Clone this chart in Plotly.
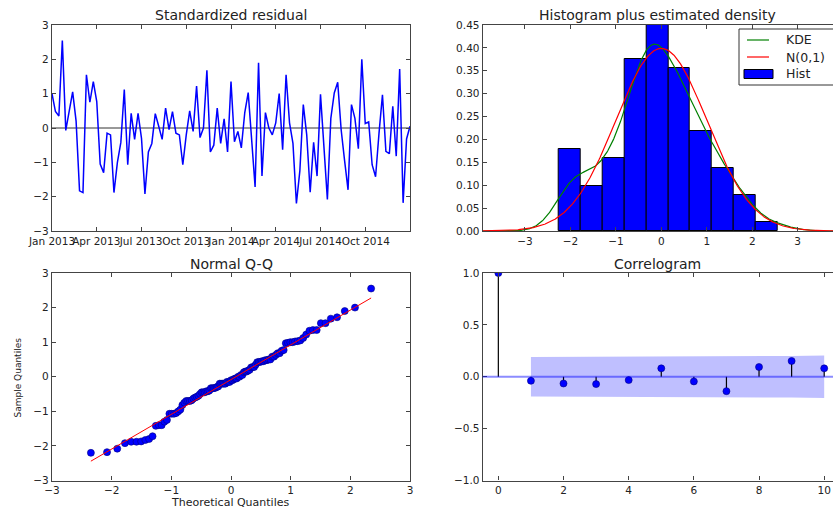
import numpy as np
import pandas as pd
import plotly.graph_objects as go
from statistics import NormalDist

W, H = 833, 508
FONT = "DejaVu Sans"
TXT = "#222222"
SPINE = "#444444"

# ---- data -------------------------------------------------------------
dates = pd.date_range("2013-01-01", periods=105, freq="7D")

std_resid = [
    1.00, 0.48, 0.35, 2.55, -0.07, 0.50, 1.05, 0.20, -1.83, -1.88,
    1.55, 0.75, 1.35, 0.77, -1.05, -1.30, -0.15, -0.20, -1.88, -1.00,
    -0.42, 1.12, -1.07, 0.43, -0.33, 0.43, -0.30, -1.92, -0.70, -0.45,
    0.42, 0.05, -0.33, 0.58, -0.05, 0.48, -0.15, -0.20, -1.07, -0.20,
    0.50, -0.10, 1.22, -0.28, 0.00, 1.68, -0.70, -0.50, 0.58, -0.45,
    0.27, -0.70, 1.35, -0.40, -0.10, -0.58, 0.45, 1.03, -0.33, -1.72,
    1.90, -1.40, 0.45, 0.00, -0.20, 0.15, 1.00, -0.63, 1.55, 0.15,
    -0.45, -2.20, -1.25, 0.68, -0.20, -1.87, -0.42, -1.40, 0.98, -0.55,
    -2.08, 0.28, 1.02, 1.33, -0.05, -0.95, -1.80, 0.68, 0.28, -0.60,
    2.00, 0.13, 0.18, -1.07, -1.42, -0.15, 0.97, -0.68, -0.75, 0.63,
    -0.82, 1.72, -2.18, -0.32, 0.05,
]

hist_start, hist_end, hist_bins = -2.25, 2.557, 10

lags = list(range(11))
acf_vals = [1.0, -0.039, -0.065, -0.071, -0.032, 0.081,
            -0.045, -0.139, 0.094, 0.152, 0.081]

# ---- derived curves ---------------------------------------------------
r = np.array(std_resid)
n = len(r)

hist_xr = [-3.93, 3.777]
grid = np.linspace(hist_xr[0], hist_xr[1], 500)
q75, q25 = np.percentile(r, [75, 25])
bw = 1.059 * min(r.std(ddof=1), (q75 - q25) / 1.349) * n ** (-0.2)
kde = np.exp(-0.5 * ((grid[:, None] - r[None, :]) / bw) ** 2).sum(1) / (n * bw * np.sqrt(2 * np.pi))
norm_pdf = np.exp(-0.5 * grid ** 2) / np.sqrt(2 * np.pi)

nd = NormalDist()
theo_q = np.array([nd.inv_cdf(i / (n + 1)) for i in range(1, n + 1)])
sample_q = np.sort(r)
qq_line = r.std(ddof=1) * theo_q + r.mean()

# Bartlett confidence band for lags >= 1
band_x, band_hi = [], []
cum = 0.0
for k in lags[1:]:
    band_x.append(k)
    band_hi.append(1.96 * np.sqrt((1 + 2 * cum) / n))
    cum += acf_vals[k] ** 2
band_hi = np.array(band_hi)

stem_x, stem_y = [], []
for k, v in zip(lags, acf_vals):
    stem_x += [k, k, None]
    stem_y += [0, v, None]

# ---- figure -----------------------------------------------------------
fig = go.Figure()

fig.add_trace(go.Scatter(x=dates, y=std_resid, mode="lines",
                         line=dict(color="#0000ff", width=1.5),
                         xaxis="x", yaxis="y"))

fig.add_trace(go.Histogram(x=std_resid, histnorm="probability density",
                           xbins=dict(start=hist_start, end=hist_end,
                                      size=(hist_end - hist_start) / hist_bins),
                           marker=dict(color="#0000ff", line=dict(color="#000000", width=1)),
                           xaxis="x2", yaxis="y2"))
fig.add_trace(go.Scatter(x=grid, y=kde, mode="lines",
                         line=dict(color="#008000", width=1.2),
                         xaxis="x2", yaxis="y2"))
fig.add_trace(go.Scatter(x=grid, y=norm_pdf, mode="lines",
                         line=dict(color="#ff0000", width=1.2),
                         xaxis="x2", yaxis="y2"))

fig.add_trace(go.Scatter(x=theo_q, y=sample_q, mode="markers",
                         marker=dict(color="#0000ff", size=7,
                                     line=dict(color="#000080", width=0.6)),
                         xaxis="x3", yaxis="y3"))
fig.add_trace(go.Scatter(x=[theo_q[0], theo_q[-1]], y=[qq_line[0], qq_line[-1]],
                         mode="lines", line=dict(color="#ff0000", width=1),
                         xaxis="x3", yaxis="y3"))

fig.add_trace(go.Scatter(x=band_x + band_x[::-1],
                         y=list(band_hi) + list(-band_hi[::-1]),
                         fill="toself", fillcolor="rgba(0,0,255,0.25)",
                         line=dict(width=0), mode="lines",
                         xaxis="x4", yaxis="y4"))
fig.add_trace(go.Scatter(x=stem_x, y=stem_y, mode="lines",
                         line=dict(color="#000000", width=1.2),
                         xaxis="x4", yaxis="y4"))
fig.add_trace(go.Scatter(x=lags, y=acf_vals, mode="markers",
                         marker=dict(color="#0000ff", size=7,
                                     line=dict(color="#000080", width=0.6)),
                         xaxis="x4", yaxis="y4"))

left_dom = [52 / W, 410 / W]
right_dom = [482.7 / W, 1.0]
top_dom = [1 - 231 / H, 1 - 25 / H]
bot_dom = [1 - 480.5 / H, 1 - 273 / H]

tickfont = dict(family=FONT, size=10.5, color=TXT)


def ax(**kw):
    base = dict(showline=True, linecolor=SPINE, linewidth=1.2, mirror="ticks",
                ticks="inside", ticklen=4, tickcolor=SPINE, tickwidth=1,
                showgrid=False, zeroline=False, tickfont=tickfont, tickangle=0,
                automargin=False)
    base.update(kw)
    return base


fig.update_layout(
    template="none",
    width=W, height=H,
    margin=dict(l=0, r=0, t=0, b=0, autoexpand=False),
    paper_bgcolor="white", plot_bgcolor="white",
    showlegend=False,
    font=dict(family=FONT, color=TXT),
    xaxis=ax(domain=left_dom, anchor="y", type="date",
             range=[dates[0], dates[-1]], tick0="2013-01-01", dtick="M3",
             tickformat="%b %Y"),
    yaxis=ax(domain=top_dom, anchor="x", range=[-3, 3], dtick=1),
    xaxis2=ax(domain=right_dom, anchor="y2", range=hist_xr, dtick=1),
    yaxis2=ax(domain=top_dom, anchor="x2", range=[0, 0.45], dtick=0.05,
              tickformat=".2f", mirror=False),
    xaxis3=ax(domain=left_dom, anchor="y3", range=[-3, 3], dtick=1),
    yaxis3=ax(domain=bot_dom, anchor="x3", range=[-3, 3], dtick=1),
    xaxis4=ax(domain=right_dom, anchor="y4", range=[-0.48, 10.27], dtick=2),
    yaxis4=ax(domain=bot_dom, anchor="x4", range=[-1, 1], dtick=0.5,
              tickformat=".1f", mirror=False),
    bargap=0,
)

shapes = [
    dict(type="line", xref="x domain", x0=0, x1=1, yref="y", y0=0, y1=0,
         line=dict(color="#333333", width=1), layer="below"),
    dict(type="line", xref="x4 domain", x0=0, x1=1, yref="y4", y0=0, y1=0,
         line=dict(color="rgba(0,0,255,0.45)", width=2)),
]


def px(x, y):
    return x / W, 1 - y / H


# legend box for the histogram panel
lx0, ly0 = px(739, 29)
lx1, ly1 = px(860, 85)
shapes.append(dict(type="rect", xref="paper", yref="paper", x0=lx0, x1=lx1, y0=ly1, y1=ly0,
                   line=dict(color="#333333", width=1), fillcolor="white"))
for yy, col in [(40, "#008000"), (57, "#ff0000")]:
    a, b = px(747, yy)
    c, _ = px(769, yy)
    shapes.append(dict(type="line", xref="paper", yref="paper", x0=a, x1=c, y0=b, y1=b,
                       line=dict(color=col, width=1.2)))
a, b = px(744, 69.5)
c, d = px(773, 78.5)
shapes.append(dict(type="rect", xref="paper", yref="paper", x0=a, x1=c, y0=d, y1=b,
                   line=dict(color="#000000", width=1), fillcolor="#0000ff"))

annotations = []
for label, yy in [("KDE", 40), ("N(0,1)", 57), ("Hist", 74)]:
    a, b = px(784, yy)
    annotations.append(dict(text=label, xref="paper", yref="paper", x=a, y=b,
                            xanchor="left", yanchor="middle", showarrow=False,
                            font=dict(family=FONT, size=12.5, color=TXT)))

for title, cx, by in [("Standardized residual", 231, 25),
                      ("Histogram plus estimated density", 657, 25),
                      ("Normal Q-Q", 231, 274),
                      ("Correlogram", 657, 274)]:
    a, b = px(cx, by)
    annotations.append(dict(text=title, xref="paper", yref="paper", x=a, y=b,
                            xanchor="center", yanchor="bottom", showarrow=False,
                            font=dict(family=FONT, size=14, color=TXT)))

a, b = px(230, 502)
annotations.append(dict(text="Theoretical Quantiles", xref="paper", yref="paper", x=a, y=b,
                        xanchor="center", yanchor="middle", showarrow=False,
                        font=dict(family=FONT, size=11, color=TXT)))
a, b = px(17.5, 378)
annotations.append(dict(text="Sample Quantiles", xref="paper", yref="paper", x=a, y=b,
                        xanchor="center", yanchor="middle", showarrow=False, textangle=-90,
                        font=dict(family=FONT, size=9, color=TXT)))

fig.update_layout(shapes=shapes, annotations=annotations)
fig.write_html("out.html")
